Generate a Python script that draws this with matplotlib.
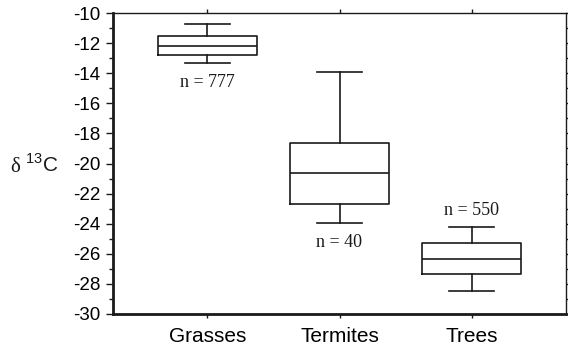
import matplotlib
matplotlib.use("Agg")
import matplotlib.pyplot as plt
from matplotlib.ticker import MultipleLocator

plt.rcParams['font.family'] = ['Liberation Sans', 'DejaVu Sans']
plt.rcParams['axes.unicode_minus'] = False

# Box-plot summary statistics of delta 13C (per mil)
categories = ["Grasses", "Termites", "Trees"]
whisker_low = [-13.3, -23.95, -28.5]
q1 = [-12.8, -22.7, -27.35]
median = [-12.2, -20.6, -26.35]
q3 = [-11.55, -18.65, -25.3]
whisker_high = [-10.75, -13.95, -24.25]
sample_n = [777, 40, 550]

fig = plt.figure(figsize=(5.68, 3.5), dpi=100)
ax = fig.add_axes([113 / 568, 1 - 314 / 350, (566 - 113) / 568, (314 - 13) / 350])

stats = []
for i, name in enumerate(categories):
    stats.append(dict(label=name, whislo=whisker_low[i], q1=q1[i], med=median[i],
                      q3=q3[i], whishi=whisker_high[i], fliers=[]))

line_kw = dict(color="#1a1a1a", linewidth=1.2)
positions = list(range(1, len(categories) + 1))
ax.bxp(stats, positions=positions, widths=0.75, showfliers=False,
       boxprops=line_kw, whiskerprops=line_kw, capprops=line_kw,
       medianprops=line_kw, capwidths=0.34)

ax.set_xlim(0.285, 3.715)
ax.set_ylim(-30, -10)

# y axis: majors every 2, minors every 1
ax.yaxis.set_major_locator(MultipleLocator(2))
ax.yaxis.set_minor_locator(MultipleLocator(1))
ax.tick_params(axis='y', which='major', direction='out', length=5, width=1,
               labelsize=13.5, pad=4, left=True, right=True, color="#1a1a1a")
ax.tick_params(axis='y', which='minor', direction='out', length=3, width=1,
               left=True, right=True, color="#1a1a1a")
ax.tick_params(axis='x', which='major', direction='out', length=3, width=1,
               labelsize=15, pad=6, top=True, bottom=True, color="#1a1a1a")
ax.set_xticks(positions)
ax.set_xticklabels(categories)

for side in ("left", "bottom"):
    ax.spines[side].set_linewidth(2.0)
    ax.spines[side].set_color("#1a1a1a")
for side in ("top", "right"):
    ax.spines[side].set_linewidth(1.0)
    ax.spines[side].set_color("#1a1a1a")

# sample sizes, positioned next to the whiskers
serif = ['Liberation Serif', 'DejaVu Serif']
label_side = ["below", "below", "above"]
for i, name in enumerate(categories):
    if label_side[i] == "below":
        y, dy = whisker_low[i], -14
    else:
        y, dy = whisker_high[i], 12
    ax.annotate(f"n = {sample_n[i]}", xy=(positions[i], y), xytext=(0, dy),
                textcoords="offset points", ha="center", va="center",
                fontsize=13, family=serif, color="#1a1a1a")

# y-axis label
base_y = 1 - 171.5 / 350
fig.text(10 / 568, base_y, "δ", family=serif, fontsize=15, va="baseline", ha="left",
         color="#1a1a1a")
fig.text(25 / 568, base_y, r"$^{\mathregular{13}}$C", fontsize=15, va="baseline",
         ha="left", color="#1a1a1a")

fig.savefig("out.png", dpi=100)
